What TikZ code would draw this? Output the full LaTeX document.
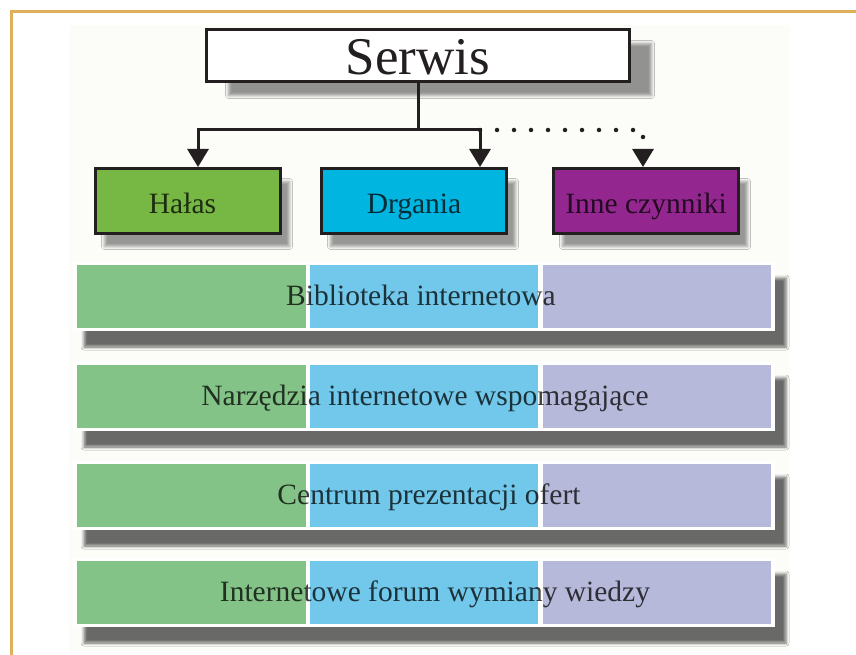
\documentclass[tikz,border=0pt]{standalone}
\usepackage{fontspec}
\setmainfont{Liberation Serif}
\usetikzlibrary{arrows.meta,shadows.blur}
\definecolor{gold}{RGB}{222,176,92}
\definecolor{panel}{RGB}{252,252,249}
\definecolor{cgreen}{RGB}{118,184,67}
\definecolor{ccyan}{RGB}{0,181,224}
\definecolor{cpurple}{RGB}{147,39,143}
\definecolor{sgreen}{RGB}{132,195,135}
\definecolor{sblue}{RGB}{114,200,234}
\definecolor{slav}{RGB}{183,185,218}
\definecolor{ink}{RGB}{35,31,32}
\tikzset{
  topbox/.style={draw=ink, line width=3pt, minimum width=185pt, minimum height=65pt,
     inner sep=0pt, text height=24pt, text depth=0pt,
     font=\fontsize{29.5}{31}\selectfont, text=black, text opacity=0.75,
     blur shadow={shadow xshift=9pt, shadow yshift=-13pt, shadow opacity=40, shadow blur radius=3pt}},
  serwisbox/.style={draw=ink, line width=3pt, fill=white, minimum width=423pt, minimum height=52pt,
     inner sep=0pt, text height=39pt, text depth=0pt,
     font=\fontsize{53}{55}\selectfont, text=ink,
     blur shadow={shadow xshift=22pt, shadow yshift=-14pt, shadow opacity=42, shadow blur radius=3pt}},
  barbox/.style={fill=white, minimum width=702pt, minimum height=69pt, inner sep=0pt,
     blur shadow={shadow xshift=11pt, shadow yshift=-16pt, shadow opacity=58, shadow blur radius=3pt}},
  bartext/.style={font=\fontsize{29.5}{31}\selectfont, text=black, text opacity=0.75, inner sep=0pt, anchor=base},
  conn/.style={draw=ink, line width=3pt},
  arr/.style={conn, -{Triangle[length=18pt,width=21pt]}},
  dotline/.style={draw=ink, line width=4.5pt, line cap=round, dash pattern=on 0pt off 17pt},
}
\begin{document}
\begin{tikzpicture}[x=1pt,y=-1pt]
\useasboundingbox (0,0) rectangle (856,655);
\fill[white] (0,0) rectangle (856,655);
\fill[panel] (70,25) rectangle (790,652);
\fill[gold] (10,10) rectangle (856,13);
\fill[gold] (10,10) rectangle (13,655);

% top boxes
\node[serwisbox] (serwis) at (418,55.5) {Serwis};
\node[topbox, fill=cgreen] (halas) at (188,201) {\hspace*{-11pt}Hałas};
\node[topbox, fill=ccyan] (drgania) at (414,201) {Drgania};
\node[topbox, fill=cpurple] (inne) at (646,201) {Inne czynniki};

% connectors
\coordinate (jL) at (198,130);
\coordinate (jR) at (480,130);
\coordinate (jD) at (643,130);
\draw[conn] (serwis.south) -- (serwis.south |- jL);
\draw[conn, line cap=rect] (jL) -- (jR);
\draw[arr] (jL) -- (jL |- halas.north);
\draw[arr] (jR) -- (jR |- drgania.north);
\draw[dotline] (jR) -- (jD) -- ([yshift=18pt]jD |- inne.north);
\draw[ink, -{Triangle[length=18pt,width=21pt]}, line width=3pt, dash pattern=on 0pt off 20pt] ([yshift=18pt]jD |- inne.north) -- (jD |- inne.north);

% bars
\foreach \y/\x/\t/\n in {265/421/Biblioteka internetowa/1, 365/425/Narzędzia internetowe wspomagające/2, 464/429/Centrum prezentacji ofert/3, 561/435/Internetowe forum wymiany wiedzy/4}{
  \node[barbox] (bar\n) at (424,\y+31.5) {};
  \fill[sgreen] (77,\y) rectangle (306,\y+63);
  \fill[sblue] (310,\y) rectangle (538,\y+63);
  \fill[slav] (543,\y) rectangle (771,\y+63);
  \node[bartext] (txt\n) at (\x,\y+40) {\t};
}
\end{tikzpicture}
\end{document}
